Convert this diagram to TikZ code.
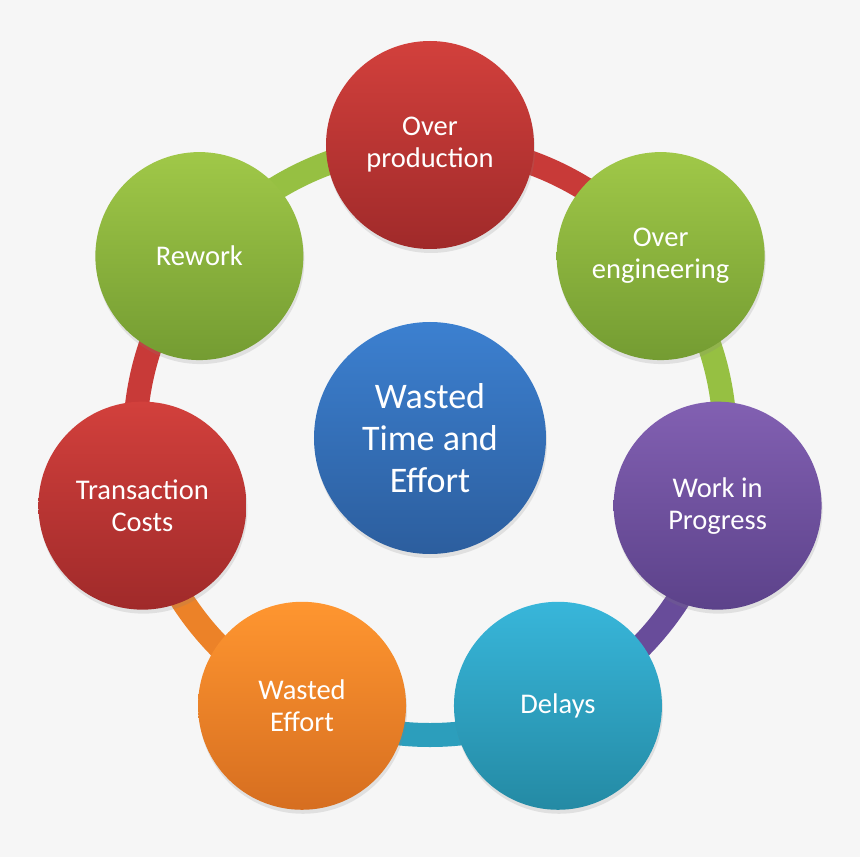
\documentclass[tikz,border=0pt]{standalone}
\usepackage{fontspec}
\setmainfont{Carlito}
\usepackage{tikz}
\usetikzlibrary{backgrounds,shadows}

\definecolor{bgcol}{RGB}{246,246,246}
\definecolor{redtop}{RGB}{210,64,60}
\definecolor{redbot}{RGB}{160,42,42}
\definecolor{redmid}{RGB}{200,58,56}
\definecolor{greentop}{RGB}{160,200,72}
\definecolor{greenbot}{RGB}{116,156,50}
\definecolor{greenmid}{RGB}{150,192,66}
\definecolor{purptop}{RGB}{130,96,178}
\definecolor{purpbot}{RGB}{92,66,138}
\definecolor{purpmid}{RGB}{104,76,154}
\definecolor{tealtop}{RGB}{56,182,218}
\definecolor{tealbot}{RGB}{36,138,164}
\definecolor{tealmid}{RGB}{44,158,188}
\definecolor{orgtop}{RGB}{255,150,48}
\definecolor{orgbot}{RGB}{214,110,32}
\definecolor{orgmid}{RGB}{236,130,40}
\definecolor{bluetop}{RGB}{60,128,208}
\definecolor{bluebot}{RGB}{44,94,158}

\begin{document}
\begin{tikzpicture}[
		x=1pt, y=1pt,
		font=\fontsize{28.5}{32}\selectfont,
		bubble/.style={circle, minimum size=208pt, inner sep=0pt, text=white, align=center,
			drop shadow={shadow xshift=1pt, shadow yshift=-4pt, opacity=0.18}},
		ring/.style={line width=24pt, bend left=25.71, looseness=0.9}
		]
		\useasboundingbox (-430,-417) rectangle (430,440);
		
		% Middle circle
		\node (waste) [bubble, minimum size=232pt, top color=bluetop, bottom color=bluebot,
			font=\fontsize{36}{42}\selectfont] at (0,2) {Wasted\\Time and\\Effort};
		
		% Outer circles
		\node (over) [bubble, top color=redtop, bottom color=redbot] at (90:295) {Over\\production};
		\node (eng) [bubble, top color=greentop, bottom color=greenbot] at (38.57:295) {Over\\engineering};
		\node (wip) [bubble, top color=purptop, bottom color=purpbot] at (-12.86:295) {Work in\\Progress};
		\node (delay) [bubble, top color=tealtop, bottom color=tealbot] at (-64.29:295) {Delays};
		\node (effort) [bubble, top color=orgtop, bottom color=orgbot] at (-115.71:295) {Wasted\\Effort};
		\node (trans) [bubble, top color=redtop, bottom color=redbot] at (-167.14:295) {Transaction\\Costs};
		\node (rework) [bubble, top color=greentop, bottom color=greenbot] at (141.43:295) {Rework};
		
		\begin{scope}[on background layer]
		\fill [bgcol] (-430,-417) rectangle (430,440);
		% Ring pieces
		\draw[ring, redmid] (over.center) to (eng.center);
		\draw[ring, greenmid] (eng.center) to (wip.center);
		\draw[ring, purpmid] (wip.center) to (delay.center);
		\draw[ring, tealmid] (delay.center) to (effort.center);
		\draw[ring, orgmid] (effort.center) to (trans.center);
		\draw[ring, redmid] (trans.center) to (rework.center);
		\draw[ring, greenmid] (rework.center) to (over.center);
		\end{scope}
		\end{tikzpicture}
\end{document}
